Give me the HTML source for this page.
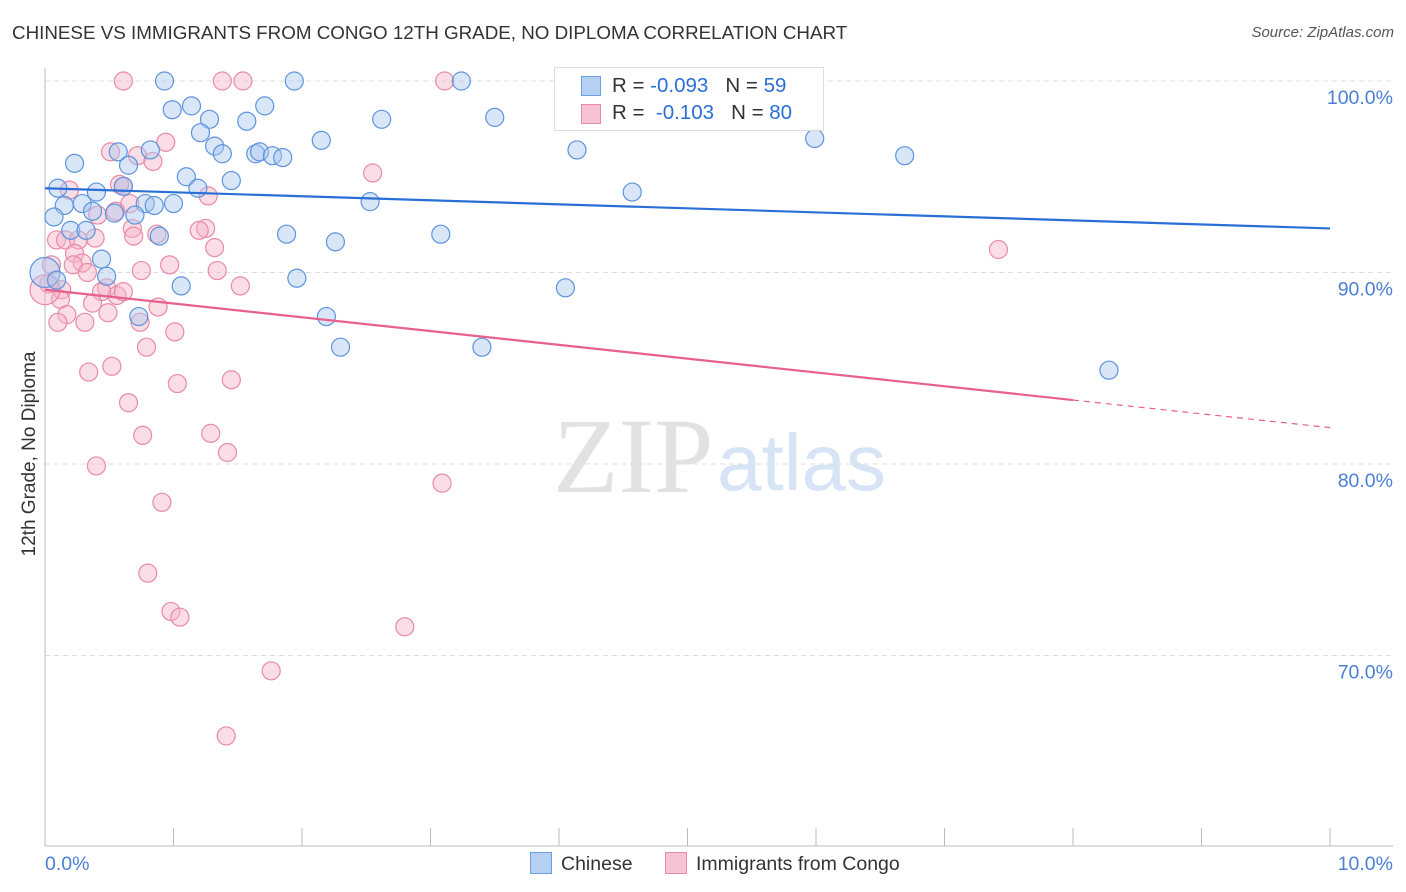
<!DOCTYPE html>
<html><head><meta charset="utf-8"><style>
body{margin:0;background:#fff;font-family:"Liberation Sans",sans-serif;}
#wrap{position:relative;width:1406px;height:892px;overflow:hidden;}
.t{position:absolute;white-space:nowrap;}
</style></head><body>
<div id="wrap">
<div class="t" style="left:12px;top:22px;font-size:18.8px;color:#333;">CHINESE VS IMMIGRANTS FROM CONGO 12TH GRADE, NO DIPLOMA CORRELATION CHART</div>
<div class="t" style="right:12px;top:24px;font-size:15px;color:#555;font-style:italic;">Source: ZipAtlas.com</div>
<div class="t" style="left:-75px;top:443px;font-size:19px;color:#333;transform:rotate(-90deg);width:210px;text-align:center;">12th Grade, No Diploma</div>
<svg id="svg" width="1406" height="892" style="position:absolute;left:0;top:0"></svg>
</div>
<script>
const blueX=[0.93,1.94,3.24,1.14,0.99,1.71,1.28,1.57,2.62,3.50,1.21,2.15,5.99,1.32,0.82,1.38,0.57,1.64,1.67,1.77,1.85,4.14,6.69,0.23,0.65,1.10,1.45,0.10,0.40,0.61,1.19,4.57,0.15,0.29,0.78,0.85,1.00,2.53,0.37,0.07,0.54,0.70,0.20,0.32,0.89,1.88,2.26,3.08,0.44,0.0,0.09,0.48,1.96,1.06,4.05,0.73,2.19,2.30,3.40,8.28];
const blueY=[100,100,100,98.7,98.5,98.7,98.0,97.9,98.0,98.1,97.3,96.9,97.0,96.6,96.4,96.2,96.3,96.2,96.3,96.1,96.0,96.4,96.1,95.7,95.6,95.0,94.8,94.4,94.2,94.5,94.4,94.2,93.5,93.6,93.6,93.5,93.6,93.7,93.2,92.9,93.1,93.0,92.2,92.2,91.9,92.0,91.6,92.0,90.7,90.0,89.6,89.8,89.7,89.3,89.2,87.7,87.7,86.1,86.1,84.9];
const pinkX=[0.61,1.38,1.54,3.11,0.94,0.51,0.72,0.84,2.55,0.61,0.19,0.58,1.27,0.66,0.55,0.41,0.68,1.25,0.09,0.16,0.26,0.39,0.69,0.87,1.20,1.32,0.23,0.29,0.22,0.05,0.75,0.97,1.34,0.33,7.42,0.03,0.13,1.52,0.48,0.56,0.44,0.61,0.12,0.37,0.88,0.17,0.49,0.74,0.31,0.10,1.01,0.79,0.52,0.34,1.03,1.45,0.65,0.76,1.29,1.42,0.40,3.09,0.91,0.80,0.98,1.05,2.80,1.76,1.41,0.0];
const pinkY=[100,100,100,100,96.8,96.3,96.1,95.8,95.2,94.5,94.3,94.6,94.0,93.6,93.2,93.0,92.3,92.3,91.7,91.7,91.7,91.8,91.9,92.0,92.2,91.3,91.0,90.5,90.4,90.4,90.1,90.4,90.1,90.0,91.2,89.4,89.1,89.3,89.2,88.8,89.0,89.0,88.6,88.4,88.2,87.8,87.9,87.4,87.4,87.4,86.9,86.1,85.1,84.8,84.2,84.4,83.2,81.5,81.6,80.6,79.9,79.0,78.0,74.3,72.3,72.0,71.5,69.2,65.8,89.1];
const yTicks=[100,90,80,70];
const blueTrend=[94.4,92.3];
const pinkTrend=[89.1,81.9];
const pinkSolidEnd=8.0;

const sx=v=>45+v*128.5, sy=v=>81+(100-v)*19.15;
const svg=document.getElementById('svg');NS='http://www.w3.org/2000/svg';
function mk(t,a){const e=document.createElementNS(NS,t);for(const k in a)e.setAttribute(k,a[k]);svg.appendChild(e);return e;}
yTicks.forEach(v=>{
 const g=mk('line',{x1:45,x2:1393,y1:sy(v),y2:sy(v),stroke:'#ddd','stroke-dasharray':'5,4'});
 
 
 const t=mk('text',{x:1393,y:sy(v)+23,'text-anchor':'end','font-size':19.5,fill:'#4a7fd4'});t.textContent=v.toFixed(1)+'%';
 
 
});
let ax=mk('line',{x1:45,x2:45,y1:68,y2:846,stroke:'#bbb'});

ax=mk('line',{x1:45,x2:1393,y1:846,y2:846,stroke:'#bbb'});

for(let i=0;i<=10;i++){const tk=mk('line',{x1:sx(i),x2:sx(i),y1:828,y2:846,stroke:'#bbb'});
 }
let t=mk('text',{x:45,y:870,'font-size':19.5,fill:'#4a7fd4'});t.textContent='0.0%';

t=mk('text',{x:1393,y:870,'text-anchor':'end','font-size':19.5,fill:'#4a7fd4'});t.textContent='10.0%';

t=mk('text',{x:553,y:492,'font-size':107,fill:'#e2e2e2','font-family':'Liberation Serif'});t.textContent='ZIP';

t=mk('text',{x:717,y:490,'font-size':80,fill:'#d6e4f5'});t.textContent='atlas';

function pts(X,Y,fill,stroke,name){X.forEach((x,i)=>{const c=mk('circle',{cx:sx(x),cy:sy(Y[i]),r:(x===0?15:9),fill:fill,'fill-opacity':0.45,stroke:stroke,'stroke-width':1.2});
 });}
pts(pinkX,pinkY,'#f6b4c8','#e88aa8','congo-point');
pts(blueX,blueY,'#a9c8f0','#5d93dc','chinese-point');
let l=mk('line',{x1:sx(0),y1:sy(blueTrend[0]),x2:sx(10),y2:sy(blueTrend[1]),stroke:'#2a6fd6','stroke-width':2.2});

const pm=v=>pinkTrend[0]+(pinkTrend[1]-pinkTrend[0])*v/10;
l=mk('line',{x1:sx(0),y1:sy(pm(0)),x2:sx(pinkSolidEnd),y2:sy(pm(pinkSolidEnd)),stroke:'#e8608e','stroke-width':2.2});

l=mk('line',{x1:sx(pinkSolidEnd),y1:sy(pm(pinkSolidEnd)),x2:sx(10),y2:sy(pm(10)),stroke:'#e8608e','stroke-width':1.2,'stroke-dasharray':'6,5'});

</script>
<div style="position:absolute;left:554px;top:67px;width:268px;height:62px;border:1px solid #ddd;background:#fff;font-size:20.5px;color:#333;">
 <div style="position:absolute;left:26px;top:8px;width:18px;height:18px;background:#b5d0f3;border:1px solid #6b9fe0;"></div>
 <div class="t" style="left:57px;top:6px;">R = <span style="color:#2a6fd6">-0.093</span>&nbsp;&nbsp;&nbsp;N = <span style="color:#2a6fd6">59</span></div>
 <div style="position:absolute;left:26px;top:36px;width:18px;height:18px;background:#f8c4d4;border:1px solid #e88aa8;"></div>
 <div class="t" style="left:57px;top:33px;">R = &nbsp;<span style="color:#2a6fd6">-0.103</span>&nbsp;&nbsp;&nbsp;N = <span style="color:#2a6fd6">80</span></div>
</div>
<div style="position:absolute;left:530px;top:852px;font-size:19.5px;color:#333;">
 <span style="display:inline-block;width:20px;height:20px;background:#b5d0f3;border:1px solid #6b9fe0;vertical-align:-4px;margin-right:9px;"></span>Chinese</div>
<div style="position:absolute;left:665px;top:852px;font-size:19.5px;color:#333;">
 <span style="display:inline-block;width:20px;height:20px;background:#f8c4d4;border:1px solid #e88aa8;vertical-align:-4px;margin-right:9px;"></span>Immigrants from Congo</div>
</body></html>
